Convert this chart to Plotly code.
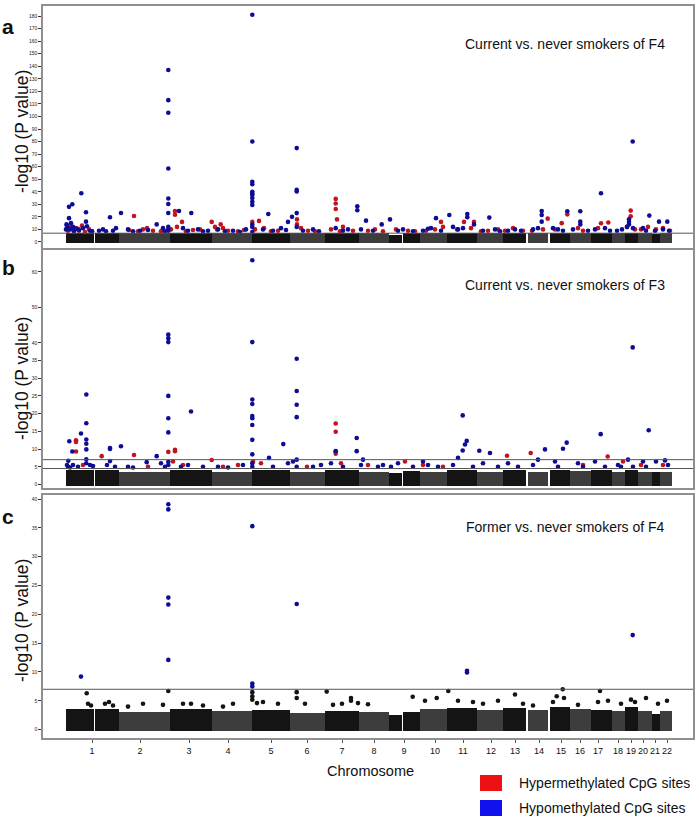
import plotly.graph_objects as go

# ---------------- chromosome layout (genome axis units) ----------------
chrom_labels = ["1", "2", "3", "4", "5", "6", "7", "8", "9", "10", "11",
                "12", "13", "14", "15", "16", "17", "18", "19", "20", "21", "22"]
chrom_tick_pos = [49, 97, 146, 185, 228, 264, 299, 331, 361, 392, 420,
                  448, 472, 496, 518, 537, 555, 575, 588, 600, 612, 624]

# blocks of non-significant CpG sites (segments; chr1 and chr9 split at gaps)
seg_start = [23, 52.3, 76, 127, 169, 209, 247, 282, 316, 346, 359.7, 377,
             404, 434, 460, 485, 507, 527, 548, 569, 582, 595, 609, 617]
seg_end = [51, 76, 127, 169, 209, 247, 282, 316, 346, 358.7, 377, 404,
           434, 460, 483, 505, 527, 548, 569, 582, 595, 609, 617, 629]
seg_chrom = [1, 1, 2, 3, 4, 5, 6, 7, 8, 9, 9, 10,
             11, 12, 13, 14, 15, 16, 17, 18, 19, 20, 21, 22]
a_block_top = [7.2, 7.0, 6.8, 7.2, 6.9, 7.2, 6.9, 7.2, 6.8, 5.6, 6.9, 6.8,
               7.3, 6.9, 7.2, 6.8, 7.4, 6.9, 7.3, 6.8, 7.3, 6.8, 6.0, 6.8]
b_block_top = [4.2, 4.0, 3.4, 4.1, 3.5, 4.0, 3.5, 4.0, 3.5, 3.2, 3.8, 3.5,
               4.1, 3.6, 4.0, 3.6, 4.2, 3.7, 4.0, 3.6, 4.2, 3.6, 3.4, 3.6]
c_block_top = [3.6, 3.6, 3.0, 3.5, 3.2, 3.4, 2.9, 3.2, 3.0, 2.6, 3.0, 3.5,
               3.8, 3.4, 3.8, 3.4, 4.0, 3.6, 3.4, 3.3, 4.0, 3.3, 2.8, 3.2]
block_base = {"a": -1.0, "b": -0.4, "c": -0.3}

# ---------------- panel a: current vs never smokers of F4 ----------------
a_hypo_x = [26, 29.3, 38.3, 43, 43, 26, 28, 24, 25, 27, 30, 33, 36, 40, 44, 47, 49, 23.5, 23, 31,
            67, 56, 60, 63, 70, 73,
            78, 85, 90, 97, 105, 113.7, 120, 122,
            125.3, 125.3, 125.3, 125.3, 125.3, 125.3, 125.3, 125.3, 125.3, 125.3,
            136, 148.3, 140, 145, 155, 160, 165,
            175, 182, 190, 197, 203,
            209.3, 209.3, 209.3, 209.3, 209.3, 209.3, 209.3, 209.3, 209.3, 209.3, 209.3, 209.3, 209.3,
            225.3, 220, 230, 238, 243,
            253.7, 253.7, 253.7, 253.7, 253.7, 249, 245, 260, 270, 276,
            300, 305, 292.7,
            314.3, 314.3, 323, 338.7, 330, 318,
            347, 355, 360, 370,
            380, 385, 393, 398, 388,
            406.3, 415, 424.3, 424.3, 431, 410, 420,
            446.3, 440, 452, 457,
            465, 472, 478,
            498.7, 498.7, 498.7, 490, 495,
            524.3, 515, 510, 520,
            537.3, 537.3, 537.3, 530, 545,
            558, 552, 562, 567,
            574, 579,
            586, 586, 586, 590, 589.7, 584,
            606.3, 600, 603,
            616, 612,
            624.3, 620, 626]
a_hypo_y = [28, 30, 38.8, 23.7, 16.2, 19, 15, 13, 11, 10, 12, 10.5, 9.5, 11, 12.5, 9, 8.5, 14, 10, 8.5,
            19.7, 9, 10, 8.5, 9, 11,
            23.1, 10, 8.5, 9, 9.5, 14, 11, 8.5,
            137, 113, 103, 58.5, 34.6, 30.3, 23.1, 12, 10, 9,
            24.7, 23.1, 11, 9, 10, 8.5, 9,
            10, 8.5, 9, 8, 10,
            181, 80, 48, 46, 40, 38.5, 37.5, 35, 32, 29.5, 14, 12, 8,
            22.3, 10, 9, 11, 9.5,
            74.8, 41.5, 40.2, 23, 12, 20, 16, 9, 10, 8.5,
            9, 10, 11,
            28.5, 25.3, 17, 14, 9, 10,
            18, 9, 10, 8.5,
            9, 10.5, 19, 9, 11,
            21.5, 10, 22.3, 19.7, 14, 12, 11,
            19.4, 9, 10, 8.5,
            9, 10, 9,
            24.7, 21.5, 16.2, 10, 11,
            24.5, 10, 11, 9,
            24.5, 16.2, 14, 10, 9,
            38.8, 10, 11, 9,
            9, 10,
            18, 16, 14, 11, 80, 12,
            21, 11, 9,
            16.2, 9,
            16.2, 10, 9]
a_hyper_x = [28, 33, 36, 39, 46, 49, 31, 42, 35, 25,
             91, 100, 110, 95, 104, 86, 118,
             132, 132, 139, 128, 134, 150, 143, 157,
             168.7, 177.7, 172, 174, 180, 185, 195, 201,
             209.3, 216, 212, 235, 228, 221,
             254, 254, 258, 265, 272,
             292.7, 292.7, 292.7, 294, 300, 288, 310, 297,
             325, 332, 340,
             353, 365, 372,
             398, 392, 400, 383,
             421, 431, 414, 428,
             445, 455, 438,
             462, 470, 480,
             504.7, 500, 489,
             518.7, 524.3, 512,
             540, 535,
             558, 565.3, 555,
             587.7, 587.7, 584, 592,
             598, 605,
             613, 620, 627]
a_hyper_y = [12, 11, 9, 13, 10, 8.5, 9.5, 8, 10.5, 9,
             20.7, 10, 9, 8.5, 11, 9.5, 8.5,
             24.7, 21.7, 16, 10, 12, 9.5, 8.5, 10,
             16, 14, 12, 10, 11, 9, 8.5, 9.5,
             16, 16.8, 10, 9, 8.5, 11,
             18, 14, 11, 9, 8.5,
             34.3, 30.6, 26.3, 18, 12, 10, 9, 8.5,
             9, 10, 8.5,
             10, 9, 8.5,
             16, 10, 12, 9,
             16, 16, 10, 11,
             9, 10, 8.5,
             9, 11, 9,
             18.6, 10, 9,
             15, 22, 10,
             9, 11,
             14.9, 15.5, 11,
             25, 20.4, 12, 10,
             10, 12,
             10, 11, 9]

# ---------------- panel b: current vs never smokers of F3 ----------------
b_hypo_x = [25.3, 26.3, 29.3, 38, 43.3, 43.3, 43.3, 43.3, 43.3, 43.3, 43.3, 24, 25, 27, 30, 35, 47, 50,
            67, 67, 67, 78, 64, 72, 85, 90, 103.7, 113.7, 118, 122,
            125.3, 125.3, 125.3, 125.3, 125.3, 125.3, 125.3, 125.3,
            148, 138, 145, 160,
            175, 185, 200,
            209.3, 209.3, 209.3, 209.3, 209.3, 209.3, 209.3, 209.3, 209.3, 209.3, 209.3,
            240.3, 226, 230, 245,
            253.7, 253.7, 253.7, 253.7, 253.7, 253.7, 250, 270, 278,
            292.7, 288, 300,
            313.7, 313.7, 320, 318, 335, 340,
            348, 355, 370,
            380, 385, 395,
            419.7, 423.7, 422, 419.7, 415, 410, 430,
            436.3, 447, 440, 455,
            465, 475,
            502, 495, 490,
            523.7, 520, 512, 515,
            535, 540,
            557.7, 552, 562,
            575, 578,
            589.7, 585, 590,
            605.7, 600, 603,
            613,
            622, 625]
b_hypo_y = [6.7, 12.2, 9.3, 14.4, 25.4, 17.3, 12.7, 11.5, 9.9, 7.1, 6, 5.5, 5, 4.8, 5.5, 5, 5.5, 5.2,
            10.3, 10, 6.6, 10.8, 5.5, 5, 5, 4.8, 6.3, 8, 6, 5,
            42.3, 41.3, 40.2, 25, 18.7, 14.7, 6.4, 5.5,
            20.6, 5, 5.5, 5,
            5, 4.8, 5.5,
            63.3, 40.2, 24, 22.7, 19.3, 18.7, 16.8, 12.6, 8.5, 6, 5,
            11.4, 7.5, 5, 6,
            35.5, 26.4, 22.5, 19, 7, 5, 6.5, 5, 5.5,
            9.4, 6, 5,
            13.1, 9.4, 7, 5.5, 5, 5.5,
            5, 6, 5,
            6.5, 5.5, 5,
            19.5, 12.3, 11.3, 9.6, 7.5, 5.5, 5,
            9.5, 8.9, 6, 5,
            6, 5,
            9.9, 7, 5.5,
            11.8, 10.1, 6.5, 5,
            6, 5,
            14.2, 6.5, 5,
            5.5, 5,
            38.7, 7, 5,
            15.3, 6.5, 5,
            6.5,
            6.8, 5.5]
b_hyper_x = [33, 33, 33, 40, 58.7, 91, 105, 125.3, 132, 132, 130, 140, 168.7, 180, 195,
             210, 218, 264, 292.7, 292.7, 292.7, 292.7, 298, 325, 362, 380, 400,
             464, 487.7, 540, 564.7, 580, 598, 620]
b_hyper_y = [12.5, 12, 9.3, 5.5, 8, 8.3, 5, 9.2, 9.8, 9.4, 6.5, 5.5, 6.9, 5, 5.5,
             6.5, 6, 5, 17.2, 14.9, 9.3, 8.7, 6, 5.5, 6.5, 5.5, 5,
             8.1, 8.9, 5.5, 7.9, 6.5, 5.5, 5.5]

# ---------------- panel c: former vs never smokers of F4 ----------------
c_hypo_x = [38, 125.3, 125.3, 125.3, 125.3, 125.3, 209.3, 209.3, 209.3, 253.7, 424, 424, 589.7]
c_hypo_y = [9.2, 39.1, 38.2, 22.9, 21.7, 12.1, 35.3, 8, 7.5, 21.8, 10.2, 9.9, 16.4]
c_ns_x = [43.7, 125.3, 45, 48, 62, 66, 70, 85, 100, 120, 140, 148, 160, 180, 190,
          209.3, 209.3, 209.3, 214, 220, 235, 253.7, 253.7, 262, 283.7, 290, 299, 308, 308,
          315, 325, 369.7, 382, 393.7, 405.3, 415, 430, 440, 455, 472, 480, 490, 510,
          513.7, 519.7, 521, 535, 557, 555, 565, 578, 588, 592, 603, 615, 624]
c_ns_y = [6.3, 6.7, 4.5, 4.2, 4.5, 4.8, 4.2, 4, 4.5, 4.3, 4.5, 4.5, 4.2, 4, 4.5,
          6.5, 5.8, 5.2, 4.6, 4.8, 4.5, 6.5, 5.5, 4.5, 6.6, 4.3, 4.5, 5, 5.5,
          4.6, 4.4, 5.7, 5, 5.5, 6.7, 5, 4.8, 4.5, 5, 6.1, 4.5, 4.2, 4.8,
          5.8, 7, 5.5, 4.3, 6.7, 4.8, 5, 4.5, 5.2, 4.8, 5.5, 4.5, 5]

thresholds = {"a": [7], "b": [7, 4.5], "c": [7]}

# ---------------- styling ----------------
W, H = 699, 819
L, R, T, B = 43, 6, 6, 81
DARK, GRAY = "#141414", "#3d3d3d"
HYPER, HYPO = "#c0141e", "#0c0c96"
FRAME = "#8f8f8f"
FONT = "Liberation Sans, Arial, sans-serif"


def px(x):
    return (x - L) / (W - L - R)


def py(y):
    return (H - B - y) / (H - T - B)


panels = [
    ("a", "y", [-4.8, 188], [py(248), py(6)], list(range(0, 181, 10))),
    ("b", "y2", [-1.0, 66.2], [py(488), py(250)], [0, 5, 10, 15, 20, 25, 30, 35, 40, 50, 60]),
    ("c", "y3", [-1.45, 40.7], [py(738), py(495)], [0, 5, 10, 15, 20, 25, 30, 35, 40]),
]
block_tops = {"a": a_block_top, "b": b_block_top, "c": c_block_top}
points = {
    "a": [(a_hyper_x, a_hyper_y, HYPER), (a_hypo_x, a_hypo_y, HYPO)],
    "b": [(b_hyper_x, b_hyper_y, HYPER), (b_hypo_x, b_hypo_y, HYPO)],
    "c": [(c_ns_x, c_ns_y, DARK), (c_hypo_x, c_hypo_y, HYPO)],
}

fig = go.Figure()
seg_centers = [(s + e) / 2 for s, e in zip(seg_start, seg_end)]
seg_widths = [e - s for s, e in zip(seg_start, seg_end)]
seg_colors = [DARK if c % 2 == 1 else GRAY for c in seg_chrom]

for key, yname, yr, dom, tv in panels:
    xname = "x" if key == "a" else ("x2" if key == "b" else "x3")
    base = block_base[key]
    fig.add_trace(go.Bar(
        x=seg_centers, y=[t - base for t in block_tops[key]], base=base,
        width=seg_widths, marker=dict(color=seg_colors, line=dict(width=0)),
        xaxis=xname, yaxis=yname, showlegend=False, hoverinfo="skip"))
    for xs, ys, col in points[key]:
        fig.add_trace(go.Scatter(
            x=xs, y=ys, mode="markers", marker=dict(color=col, size=4.6),
            xaxis=xname, yaxis=yname, showlegend=False, hoverinfo="skip"))
    for t in thresholds[key]:
        fig.add_shape(type="line", xref=xname + " domain", yref=yname,
                      x0=0, x1=1, y0=t, y1=t, line=dict(color="#555555", width=1))

common_x = dict(range=[0, 650], showgrid=False, zeroline=False, showline=True,
                linecolor=FRAME, linewidth=1.5, mirror=True)
common_y = dict(showgrid=False, zeroline=False, showline=True, linecolor=FRAME,
                linewidth=1.5, mirror=True, ticks="outside", ticklen=3, tickwidth=1,
                tickcolor="#333333", tickfont=dict(size=5, color="#222222", family=FONT))

layout_axes = {}
for i, (key, yname, yr, dom, tv) in enumerate(panels):
    xn = "xaxis" if i == 0 else f"xaxis{i+1}"
    yn = "yaxis" if i == 0 else f"yaxis{i+1}"
    xd = dict(common_x, anchor=yname)
    if key == "c":
        xd.update(tickmode="array", tickvals=chrom_tick_pos, ticktext=chrom_labels,
                  ticks="outside", ticklen=3, tickcolor="#555555", tickangle=0,
                  tickfont=dict(size=9, color="#111111", family=FONT))
    else:
        xd.update(showticklabels=False, ticks="")
    layout_axes[xn] = xd
    layout_axes[yn] = dict(common_y, domain=dom, range=yr, tickmode="array",
                           tickvals=tv, anchor="x" if i == 0 else f"x{i+1}")

annotations = []
titles = ["Current vs. never smokers of F4", "Current vs. never smokers of F3",
          "Former vs. never smokers of F4"]
title_y = [44, 285, 527]
letter_y = [27, 268, 516]
ytitle_y = [132, 379, 621]
for k, letter in enumerate(["a", "b", "c"]):
    annotations.append(dict(x=px(667), y=py(title_y[k]), xref="paper", yref="paper",
                            text=titles[k], showarrow=False, xanchor="right", yanchor="middle",
                            font=dict(size=14, color="#111111", family=FONT)))
    annotations.append(dict(x=px(8), y=py(letter_y[k]), xref="paper", yref="paper",
                            text="<b>" + letter + "</b>", showarrow=False, xanchor="center",
                            yanchor="middle", font=dict(size=21, color="#111111", family=FONT)))
    annotations.append(dict(x=px(22), y=py(ytitle_y[k]), xref="paper", yref="paper",
                            text="-log10 (P value)", showarrow=False, textangle=-90,
                            xanchor="center", yanchor="middle",
                            font=dict(size=17.5, color="#111111", family=FONT)))

annotations.append(dict(x=px(370), y=py(771), xref="paper", yref="paper", text="Chromosome",
                        showarrow=False, xanchor="center", yanchor="middle",
                        font=dict(size=14.5, color="#111111", family=FONT)))

legend_labels = ["Hypermethylated CpG sites", "Hypomethylated CpG sites"]
legend_colors = ["#ee1111", "#1111ee"]
legend_y = [783, 808]
shapes_extra = []
for lab, col, ly in zip(legend_labels, legend_colors, legend_y):
    shapes_extra.append(dict(type="rect", xref="paper", yref="paper",
                             x0=px(480), x1=px(502), y0=py(ly + 8), y1=py(ly - 8),
                             fillcolor=col, line=dict(width=0)))
    annotations.append(dict(x=px(517), y=py(ly), xref="paper", yref="paper", text=lab,
                            showarrow=False, xanchor="left", yanchor="middle",
                            font=dict(size=14, color="#111111", family=FONT)))

for s in shapes_extra:
    fig.add_shape(**s)

fig.update_layout(
    width=W, height=H, margin=dict(l=L, r=R, t=T, b=B, autoexpand=False),
    paper_bgcolor="white", plot_bgcolor="white", bargap=0, showlegend=False,
    annotations=annotations, font=dict(family=FONT), **layout_axes)

fig.write_html("out.html", config={"displayModeBar": False},
               post_script="document.body.style.margin='0px';")
